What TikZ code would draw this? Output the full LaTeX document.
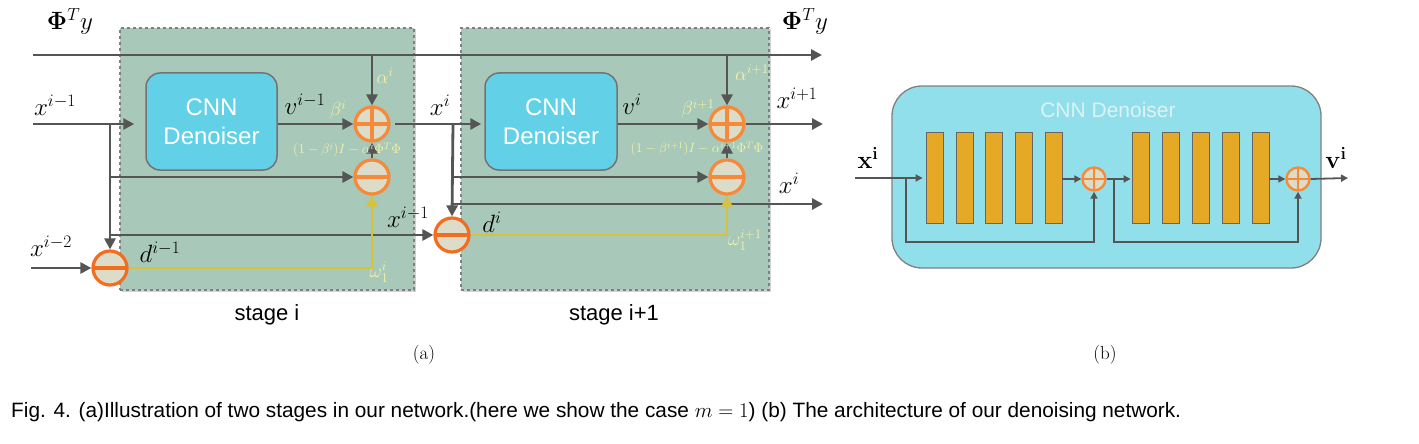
\RequirePackage{fix-cm}
\documentclass[tikz,border=0pt]{standalone}
\usepackage[no-math]{fontspec}
\setsansfont{Liberation Sans}
\usetikzlibrary{arrows.meta,shadows}
\definecolor{stagefill}{HTML}{A8C9B9}
\definecolor{cnnfill}{HTML}{62D0E6}
\definecolor{lgray}{HTML}{555555}
\definecolor{ylw}{HTML}{D6C23E}
\definecolor{ytext}{HTML}{F6F2A6}
\definecolor{cfill}{HTML}{DDDCC8}
\definecolor{orng}{HTML}{F48A3A}
\definecolor{orngd}{HTML}{F36D1E}
\definecolor{bfill}{HTML}{92DFEC}
\definecolor{barfill}{HTML}{E6A925}
\definecolor{btitle}{HTML}{DDF2F4}
\begin{document}
\begin{tikzpicture}[x=1pt,y=-1pt,
  ln/.style={draw=lgray, line width=2.8pt},
  arr/.style={ln, -{Triangle[length=11pt,width=11pt]}},
  yarr/.style={draw=ylw, line width=2.8pt, -{Triangle[length=11pt,width=11pt]}},
  sarr/.style={draw=lgray, line width=1.8pt, -{Triangle[length=7pt,width=7pt]}},
  sumc/.style={circle, minimum size=34pt, inner sep=0pt, fill=cfill, line width=3.2pt},
  plusc/.style={sumc, draw=orng, path picture={\draw[orng, line width=3.2pt]
     (path picture bounding box.north) -- (path picture bounding box.south)
     (path picture bounding box.west) -- (path picture bounding box.east);}},
  minusc/.style={sumc, draw=#1, path picture={\draw[#1, line width=3.2pt]
     (path picture bounding box.west) -- (path picture bounding box.east);}},
  minusc/.default=orng,
  splus/.style={circle, minimum size=23pt, inner sep=0pt, fill=cfill, draw=orng, line width=2.4pt,
     path picture={\draw[orng, line width=2.4pt]
     (path picture bounding box.north) -- (path picture bounding box.south)
     (path picture bounding box.west) -- (path picture bounding box.east);}},
  stagebox/.style={draw=gray, dashed, line width=1.2pt, fill=stagefill, inner sep=0pt,
     drop shadow={shadow xshift=1.5pt, shadow yshift=-1.5pt, opacity=0.35}},
  cnnbox/.style={draw=gray!90!black, line width=1.5pt, fill=cnnfill, rounded corners=14pt,
     inner sep=0pt, align=center, text=white, font=\sffamily\fontsize{24}{29}\selectfont},
  mlab/.style={inner sep=0pt, font=\fontsize{25}{29}\selectfont},
  ylab/.style={inner sep=0pt, text=ytext, font=\fontsize{19}{22}\selectfont},
  ysmall/.style={inner sep=0pt, text=ytext, font=\fontsize{13.5}{16}\selectfont},
  bar/.style={draw=gray!80!black, line width=0.8pt, fill=barfill, minimum width=17pt, minimum height=91pt, inner sep=0pt}
]
\useasboundingbox (0,0) rectangle (1419,444);
\fill[white] (0,0) rectangle (1419,444);

% ---------- (a) ----------
\node[stagebox, minimum width=294pt, minimum height=262pt] (S1) at (267,159) {};
\node[stagebox, minimum width=308pt, minimum height=262pt] (S2) at (615,159) {};
\node[cnnbox, minimum width=131pt, minimum height=97pt] (CNN1) at (211.5,121.5) {CNN\\Denoiser};
\node[cnnbox, minimum width=132pt, minimum height=97pt] (CNN2) at (551,121.5) {CNN\\Denoiser};

\node[minusc=orngd] (M0) at (110,268) {};
\node[plusc] (P1) at (372,124) {};
\node[minusc] (M1) at (372,177) {};
\node[minusc=orngd] (M2) at (452,235) {};
\node[plusc] (P2) at (727,124) {};
\node[minusc] (M3) at (727,177) {};

\coordinate (phiL) at (33,55);
\coordinate (phiR) at (822,55);
\coordinate (xin) at (33,124);
\coordinate (b1) at (110,124);
\coordinate (xm2) at (31,268);
\coordinate (b2) at (453,124);
\coordinate (xiR) at (823,204);
\coordinate (xo) at (823,124);

\draw[arr] (phiL) -- (phiR);
\draw[arr] (P1 |- phiL) -- (P1.north);
\draw[arr] (P2 |- phiL) -- (P2.north);
\draw[arr, shorten >=11pt] (xin) -- (CNN1.west |- xin);
\draw[arr] (b1) -- (M0.north);
\draw[arr] (b1 |- M1) -- (M1.west);
\draw[arr] (b1 |- M2) -- (M2.west);
\draw[arr] (xm2) -- (M0.west);
\draw[yarr] (M0.east) -- (M1 |- M0) -- (M1.south);
\draw[arr] (CNN1.east |- P1) -- (P1.west);
\draw[arr] (M1.north) -- (P1.south);
\draw[arr, shorten <=4pt, shorten >=3pt] (P1.east) -- (CNN2.west |- P1);
\draw[arr] (b2) -- (M2.north);
\draw[arr] (b2 |- M3) -- (M3.west);
\draw[arr] (b2 |- xiR) -- (xiR);
\draw[yarr] (M2.east) -- (M3 |- M2) -- (M3.south);
\draw[arr] (CNN2.east |- P2) -- (P2.west);
\draw[arr] (M3.north) -- (P2.south);
\draw[arr] (P2.east) -- (xo);

% labels (a)
\node[mlab] (lphi1) at (70,21) {$\mathbf{\Phi}^T y$};
\node[mlab] (lphi2) at (805,21) {$\mathbf{\Phi}^T y$};
\node[mlab] (lx1) at (55,105) {$x^{i-1}$};
\node[mlab] (lx2) at (51,246) {$x^{i-2}$};
\node[mlab] (lv1) at (305,104) {$v^{i-1}$};
\node[mlab] (ld1) at (160,252) {$d^{i-1}$};
\node[mlab] (lx3) at (408,217) {$x^{i-1}$};
\node[mlab] (lxi) at (440,105) {$x^{i}$};
\node[mlab] (lv2) at (632,104) {$v^{i}$};
\node[mlab] (ld2) at (492,222) {$d^{i}$};
\node[mlab] (lxo) at (797,98) {$x^{i+1}$};
\node[mlab] (lxi2) at (789,183) {$x^{i}$};

\node[ylab] (la1) at (385,76) {$\alpha^{i}$};
\node[ylab] (lb1) at (338,110) {$\beta^{i}$};
\node[ysmall] (lc1) at (347,150) {$(1-\beta^{i})I-\alpha^{i}\Phi^T\Phi$};
\node[ylab] (lw1) at (379,272) {$\omega_1^{i}$};
\node[ylab] (la2) at (752,73) {$\alpha^{i+1}$};
\node[ylab] (lb2) at (698,109) {$\beta^{i+1}$};
\node[ysmall] (lc2) at (697,149) {$(1-\beta^{i+1})I-\alpha^{i+1}\Phi^T\Phi$};
\node[ylab] (lw2) at (745,240) {$\omega_1^{i+1}$};

\node[inner sep=0pt, font=\sffamily\fontsize{22}{26}\selectfont] (st1) at (267,315) {stage i};
\node[inner sep=0pt, font=\sffamily\fontsize{22}{26}\selectfont] (st2) at (614,315) {stage i+1};
\node[inner sep=0pt, font=\fontsize{19}{22}\selectfont] (capa) at (424,355) {(a)};
\node[inner sep=0pt, font=\fontsize{19}{22}\selectfont] (capb) at (1105,355) {(b)};

% ---------- (b) ----------
\node[draw=gray, line width=1.3pt, fill=bfill, rounded corners=30pt, minimum width=429pt, minimum height=182pt, inner sep=0pt] (den) at (1106.5,177) {};
\node[inner sep=0pt, text=btitle, font=\sffamily\fontsize{21}{25}\selectfont] (dtitle) at (1108,110) {CNN Denoiser};
\foreach \n/\xx in {1/934.5,2/964.5,3/993.5,4/1023.5,5/1053.5,6/1140.5,7/1170.5,8/1200.5,9/1230.5,10/1260.5}
  \node[bar] (r\n) at (\xx,177.5) {};
\node[splus] (B1) at (1094,179) {};
\node[splus] (B2) at (1298,179) {};
\coordinate (bin) at (855,178);
\coordinate (bs1) at (906,178);
\coordinate (bs2) at (1114,178);
\coordinate (bout) at (1348,178);
\draw[sarr, shorten >=3pt] (bin) -- (r1.west |- bin);
\draw[sarr] (bs1) -- (906,242) -| (B1.south);
\draw[sarr] (r5.east |- B1) -- (B1.west);
\draw[sarr, shorten >=1pt] (B1.east) -- (r6.west |- B1);
\draw[sarr] (bs2) -- (1114,242) -| (B2.south);
\draw[sarr] (r10.east |- B2) -- (B2.west);
\draw[sarr] (B2.east) -- (bout);
\node[inner sep=0pt, font=\fontsize{25}{29}\selectfont] (lbx) at (868,158) {$\mathbf{x}^{\mathbf{i}}$};
\node[inner sep=0pt, font=\fontsize{25}{29}\selectfont] (lbv) at (1336,158) {$\mathbf{v}^{\mathbf{i}}$};

% caption
\node[anchor=west, inner sep=0pt, font=\sffamily\fontsize{20.8}{24}\selectfont] (cap) at (11,412)
  {Fig. 4. (a)Illustration of two stages in our network.(here we show the case $m=1$) (b) The architecture of our denoising network.};
\end{tikzpicture}
\end{document}
